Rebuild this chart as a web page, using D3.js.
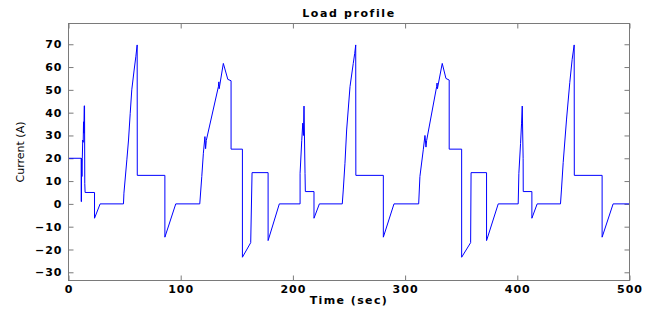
<!DOCTYPE html>
<html>
<head>
<meta charset="utf-8">
<script src="https://cdn.jsdelivr.net/npm/d3@7"></script>
<style>
  body { margin: 0; background: #fff; }
  svg text { font-family: "DejaVu Sans", sans-serif; fill: #000; }
</style>
</head>
<body>
<svg id="chart"></svg>
<script>
// size of the window
var width = 661, height = 311
// plot box
var left = 68.5, top_ = 23.5, right = 629.5, bottom = 280.5

// data
var timeSec = [
  0, 11.3, 11.3, 11.6, 11.6, 12.0, 12.3, 12.7, 13.1, 13.4, 13.7, 14.0, 14.3, 14.5, 14.8,
  23.2, 23.2, 28.2, 49.0, 49.4, 52.0, 53.5, 55.0, 56.4, 58.5, 60.0, 61.2, 61.3,
  85.9, 85.9, 95.6, 117.0, 118.8, 120.2, 121.6, 122.2, 122.8, 133.6, 134.0, 134.3,
  138.0, 142.0, 144.9, 144.9, 155.0, 155.0, 162.4, 163.6, 177.9, 177.9, 187.9,
  206.4, 206.4, 207.9, 208.8, 209.4, 209.9, 210.8, 211.1, 218.8, 218.8, 223.6,
  244.0, 244.9, 246.4, 247.9, 250.9, 253.8, 255.1, 256.0, 256.1, 280.6, 280.6, 290.1,
  312.1, 313.2, 316.2, 317.7, 318.6, 319.2, 328.1, 328.5, 328.8, 333.1, 336.4, 339.3,
  339.3, 350.4, 350.4, 358.4, 358.8, 372.6, 372.6, 383.0,
  400.8, 401.4, 402.9, 403.8, 404.4, 405.2, 405.3, 413.0, 413.0, 417.7,
  438.5, 439.4, 440.9, 443.9, 446.8, 448.9, 450.7, 450.8, 475.6, 475.6, 485.4, 500
]
var currentA = [
  20, 20, 1, 1, 20, 12, 20, 28, 27, 36, 31, 43, 43, 9, 5,
  5, -6.3, 0, 0, 4.7, 19.3, 28, 39.7, 50, 58.7, 64.5, 69.7, 12.5,
  12.5, -14.6, 0, 0, 12, 22.2, 29.5, 24.2, 27.8, 51.4, 53.5, 50.5,
  61.6, 54.6, 54.0, 24.0, 24.0, -23.4, -17.0, 13.7, 13.7, -16.1, 0,
  0, 13.4, 27.9, 35.4, 30, 42.9, 13.4, 5.4, 5.4, -6.3, 0,
  0, 6.1, 17.8, 32.4, 51.4, 61.6, 66, 69.7, 12.5, 12.5, -14.6, 0,
  0, 12, 23.7, 30, 24.9, 27.8, 51.4, 53, 50.5, 61.6, 55, 54.3,
  24, 24, -23.4, -17, 13.7, 13.7, -16.1, 0,
  0, 13.4, 26.5, 35.4, 42.9, 20, 5.4, 5.4, -6.3, 0,
  0, 6.5, 18.2, 37.2, 53.3, 63.4, 69.7, 12.5, 12.5, -14.6, 0, 0
]
var xTicks = [0, 100, 200, 300, 400, 500]
var yTicks = [-30, -20, -10, 0, 10, 20, 30, 40, 50, 60, 70]

var svg = d3.select('#chart').attr('width', width).attr('height', height)

var x = d3.scaleLinear().domain([0, 500]).range([left, right])
var y = d3.scaleLinear().domain([-33.6, 79.1]).range([bottom, top_])

var boxColor = '#7a7a7a'

// ticks, inward on all four sides
svg.append('g')
  .attr('transform', 'translate(0,' + bottom + ')')
  .call(d3.axisBottom(x).tickValues(xTicks).tickSizeInner(-5).tickSizeOuter(0).tickPadding(5))
  .call(function(g) { g.select('.domain').remove() })
  .call(function(g) {
    g.selectAll('line').attr('stroke', boxColor)
    g.selectAll('text').attr('font-size', 11).attr('font-weight', 'bold').attr('fill', '#111')
      .attr('letter-spacing', 1)
  })
svg.append('g')
  .attr('transform', 'translate(0,' + top_ + ')')
  .call(d3.axisTop(x).tickValues(xTicks).tickSizeInner(-5).tickSizeOuter(0).tickFormat(''))
  .call(function(g) { g.select('.domain').remove(); g.selectAll('line').attr('stroke', boxColor) })
svg.append('g')
  .attr('transform', 'translate(' + left + ',0)')
  .call(d3.axisLeft(y).tickValues(yTicks).tickSizeInner(-5).tickSizeOuter(0).tickPadding(6))
  .call(function(g) {
    g.select('.domain').remove()
    g.selectAll('line').attr('stroke', boxColor)
    g.selectAll('text').attr('font-size', 11).attr('font-weight', 'bold').attr('fill', '#111')
      .attr('letter-spacing', 1)
  })
svg.append('g')
  .attr('transform', 'translate(' + right + ',0)')
  .call(d3.axisRight(y).tickValues(yTicks).tickSizeInner(-5).tickSizeOuter(0).tickFormat(''))
  .call(function(g) { g.select('.domain').remove(); g.selectAll('line').attr('stroke', boxColor) })

// the curve
var pts = timeSec.map(function(t, i) { return [t, currentA[i]] })
var line = d3.line().x(function(d) { return x(d[0]) }).y(function(d) { return y(d[1]) })
svg.append('path')
  .datum(pts)
  .attr('d', line)
  .attr('fill', 'none')
  .attr('stroke', '#0000ff')
  .attr('stroke-width', 1)

// box
svg.append('rect')
  .attr('x', left).attr('y', top_)
  .attr('width', right - left).attr('height', bottom - top_)
  .attr('fill', 'none').attr('stroke', boxColor).attr('stroke-width', 1)

// labels
svg.append('text')
  .attr('x', (left + right) / 2).attr('y', 17)
  .attr('text-anchor', 'middle').attr('font-size', 11).attr('font-weight', 'bold')
  .attr('letter-spacing', 1.6)
  .text('Load profile')
svg.append('text')
  .attr('x', (left + right) / 2).attr('y', 304)
  .attr('text-anchor', 'middle').attr('font-size', 11).attr('font-weight', 'bold')
  .attr('letter-spacing', 1.4)
  .text('Time (sec)')
svg.append('text')
  .attr('transform', 'translate(24,' + ((top_ + bottom) / 2) + ') rotate(-90)')
  .attr('text-anchor', 'middle').attr('font-size', 11).attr('fill', '#000')
  .attr('font-family', '"Liberation Sans Narrow", "Liberation Sans", sans-serif')
  .text('Current (A)')
</script>
</body>
</html>
